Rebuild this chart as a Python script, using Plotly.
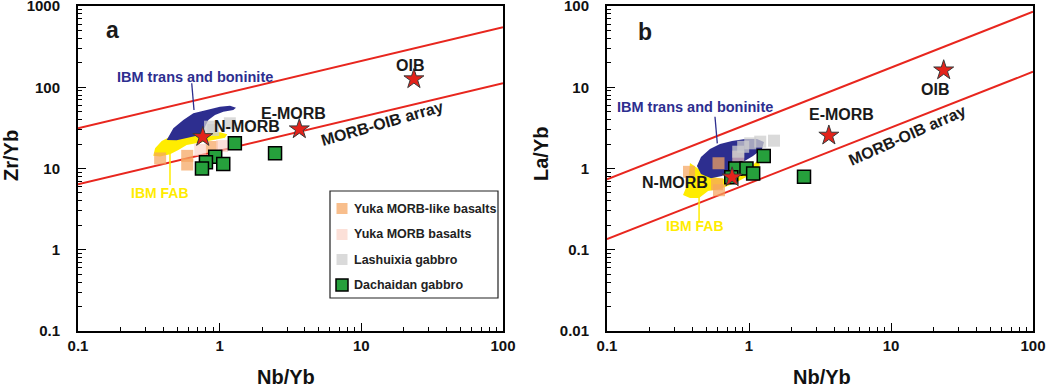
import numpy as np
import plotly.graph_objects as go

# ---------------- data ----------------
ref_names = ["N-MORB", "E-MORB", "OIB"]
ref_nb_yb = [0.76, 3.65, 23.5]
ref_zr_yb = [24.5, 30.5, 126]
ref_la_yb = [0.78, 2.55, 16.2]

# Dachaidan gabbro
dach_nb_yb_a = [1.28, 2.46, 0.93, 0.80, 1.06, 0.75]
dach_zr_yb = [20.4, 15.4, 14.0, 11.9, 11.4, 10.0]
dach_nb_yb_b = [1.27, 2.44, 0.80, 0.96, 1.07, 0.75]
dach_la_yb = [1.43, 0.79, 1.00, 1.00, 0.87, 0.78]

# Yuka MORB-like basalts
ymlk_nb_yb_a = [0.38, 0.59, 0.59, 0.88]
ymlk_zr_yb = [13.3, 14.3, 11.2, 18.4]
ymlk_nb_yb_b = [0.378, 0.595, 0.615, 0.61]
ymlk_la_yb = [0.91, 0.64, 0.54, 1.16]

# Yuka MORB basalts
ymb_nb_yb_a = [0.73, 1.04]
ymb_zr_yb = [16.9, 18.9]
ymb_nb_yb_b = [0.84]
ymb_la_yb = [1.40]

# Lashuixia gabbro
lash_nb_yb_a = [0.855, 0.90, 1.18]
lash_zr_yb = [32.7, 29.8, 36.0]
lash_nb_yb_b = [1.20, 1.50, 0.91, 1.02, 0.84]
lash_la_yb = [2.14, 2.20, 1.85, 2.04, 1.61]

# MORB-OIB array boundaries (end points at Nb/Yb = 0.1 and 100)
arr_x = [0.1, 100]
arr_a_upper = [31.3, 547]
arr_a_lower = [6.4, 112]
arr_b_upper = [0.736, 85]
arr_b_lower = [0.135, 15.5]

# Fields
ibm_trans_a_x = [0.423, 0.471, 0.554, 0.652, 0.810, 1.005, 1.183, 1.304, 1.248, 1.061,
                 0.927, 0.832, 0.788, 0.766, 0.689, 0.585, 0.497]
ibm_trans_a_y = [22.4, 31.3, 39.5, 47.8, 52.5, 57.6, 59.3, 56.0, 52.5, 50.0,
                 45.6, 39.5, 32.7, 27.9, 25.3, 23.5, 22.2]
ibm_fab_a_x = [0.340, 0.350, 0.390, 0.446, 0.554, 0.746, 1.005, 1.132, 1.09, 0.902,
               0.726, 0.585, 0.511, 0.446, 0.379]
ibm_fab_a_y = [14.4, 17.7, 21.8, 24.6, 25.8, 27.1, 27.9, 26.4, 23.9, 22.4,
               21.0, 19.5, 16.9, 15.0, 14.1]
ibm_trans_b_x = [0.430, 0.459, 0.531, 0.625, 0.759, 0.937, 1.138, 1.275, 1.235, 1.067,
                 0.907, 0.771, 0.645, 0.540, 0.459]
ibm_trans_b_y = [1.07, 1.39, 1.74, 2.00, 2.18, 2.31, 2.31, 2.12, 1.74, 1.43,
                 1.20, 0.96, 0.81, 0.76, 0.855]
ibm_fab_b_x = [0.343, 0.372, 0.384, 0.430, 0.474, 0.549, 0.678, 0.864, 1.05, 1.157,
               1.195, 1.016, 0.797, 0.625, 0.515, 0.445, 0.384]
ibm_fab_b_y = [0.472, 0.663, 1.17, 1.01, 0.905, 0.786, 0.743, 0.88, 1.07, 1.27,
               1.10, 0.83, 0.663, 0.56, 0.528, 0.434, 0.434]

# leader lines
lead_a_trans_x = [0.635, 0.659]; lead_a_trans_y = [112, 52.5]
lead_a_fab_x = [0.446, 0.446]; lead_a_fab_y = [15.5, 6.27]
lead_b_trans_x = [0.576, 0.598]; lead_b_trans_y = [4.34, 2.04]
lead_b_fab_x = [0.445, 0.445]; lead_b_fab_y = [0.597, 0.221]

legend_labels = ["Yuka MORB-like basalts", "Yuka MORB basalts", "Lashuixia gabbro", "Dachaidan gabbro"]

# ---------------- style ----------------
W, H = 1052, 388
FONT = "Liberation Sans"
NAVY = "#2d2e8f"
YELLOW = "#ffec00"
RED = "#e8261e"
GREEN = "#26a03c"
ORANGE = "rgba(245,165,95,0.72)"
PINK = "rgba(250,208,195,0.65)"
GRAY = "rgba(205,205,205,0.75)"

def px_x(p):
    return p / W

def px_y(p):
    return 1 - p / H

fig = go.Figure()

def add_panel(xa, ya, trans_x, trans_y, fab_x, fab_y, up, lo, lt, lf,
              ymlk, ymb, lash, dach, ref_y):
    xr, yr = xa, ya
    fig.add_trace(go.Scatter(x=fab_x, y=fab_y, fill="toself", mode="lines",
                             line=dict(width=0, color=YELLOW), fillcolor=YELLOW,
                             xaxis=xr, yaxis=yr, showlegend=False, hoverinfo="skip"))
    fig.add_trace(go.Scatter(x=trans_x, y=trans_y, fill="toself", mode="lines",
                             line=dict(width=0, color=NAVY), fillcolor=NAVY,
                             xaxis=xr, yaxis=yr, showlegend=False, hoverinfo="skip"))
    for yy in (up, lo):
        fig.add_trace(go.Scatter(x=arr_x, y=yy, mode="lines", line=dict(color=RED, width=2),
                                 xaxis=xr, yaxis=yr, showlegend=False, hoverinfo="skip"))
    fig.add_trace(go.Scatter(x=lt[0], y=lt[1], mode="lines", line=dict(color=NAVY, width=1.3),
                             xaxis=xr, yaxis=yr, showlegend=False, hoverinfo="skip"))
    fig.add_trace(go.Scatter(x=lf[0], y=lf[1], mode="lines", line=dict(color=YELLOW, width=1.5),
                             xaxis=xr, yaxis=yr, showlegend=False, hoverinfo="skip"))
    for (xx, yy), col, sz in ((ymlk, ORANGE, 12), (ymb, PINK, 12), (lash, GRAY, 12)):
        fig.add_trace(go.Scatter(x=xx, y=yy, mode="markers",
                                 marker=dict(symbol="square", size=sz, color=col, line=dict(width=0)),
                                 xaxis=xr, yaxis=yr, showlegend=False))
    fig.add_trace(go.Scatter(x=dach[0], y=dach[1], mode="markers",
                             marker=dict(symbol="square", size=13, color=GREEN,
                                         line=dict(color="black", width=1.5)),
                             xaxis=xr, yaxis=yr, showlegend=False))
    fig.add_trace(go.Scatter(x=ref_nb_yb, y=ref_y, mode="markers",
                             marker=dict(symbol="star", size=15, color="#e3231b",
                                         line=dict(color="#3a3a3a", width=1)),
                             xaxis=xr, yaxis=yr, showlegend=False, text=ref_names))

add_panel("x", "y", ibm_trans_a_x, ibm_trans_a_y, ibm_fab_a_x, ibm_fab_a_y,
          arr_a_upper, arr_a_lower,
          (lead_a_trans_x, lead_a_trans_y), (lead_a_fab_x, lead_a_fab_y),
          (ymlk_nb_yb_a, ymlk_zr_yb), (ymb_nb_yb_a, ymb_zr_yb),
          (lash_nb_yb_a, lash_zr_yb), (dach_nb_yb_a, dach_zr_yb), ref_zr_yb)
add_panel("x2", "y2", ibm_trans_b_x, ibm_trans_b_y, ibm_fab_b_x, ibm_fab_b_y,
          arr_b_upper, arr_b_lower,
          (lead_b_trans_x, lead_b_trans_y), (lead_b_fab_x, lead_b_fab_y),
          (ymlk_nb_yb_b, ymlk_la_yb), (ymb_nb_yb_b, ymb_la_yb),
          (lash_nb_yb_b, lash_la_yb), (dach_nb_yb_b, dach_la_yb), ref_la_yb)

def minor_vals(lo, hi):
    v = []
    for e in range(lo, hi):
        for m in range(2, 10):
            v.append(m * 10.0 ** e)
    return v

tickfont = dict(family=FONT, size=15, color="#111", weight="bold")

def xaxis(domain):
    return dict(type="log", range=[-1, 2], domain=domain, showgrid=False, zeroline=False,
                showline=True, linecolor="black", linewidth=2, mirror=True,
                ticks="inside", ticklen=8, tickwidth=1.2, tickcolor="black",
                tickvals=[0.1, 1, 10, 100], ticktext=["0.1", "1", "10", "100"],
                tickfont=tickfont, ticklabelstandoff=0, automargin=False,
                ticklabeloverflow="allow",
                minor=dict(ticks="inside", ticklen=4, tickwidth=1, tickcolor="black",
                           tickvals=minor_vals(-1, 2), showgrid=False))

def yaxis(lo, hi, anchor):
    vals = [10.0 ** e for e in range(lo, hi + 1)]
    txt = ["0.01", "0.1", "1", "10", "100", "1000"]
    txt = [t for t in txt if float(t) in vals]
    return dict(type="log", range=[lo, hi], domain=[px_y(331), px_y(6)], anchor=anchor,
                showgrid=False, zeroline=False,
                showline=True, linecolor="black", linewidth=2, mirror=True,
                ticks="inside", ticklen=8, tickwidth=1.2, tickcolor="black",
                tickvals=vals, ticktext=txt, tickfont=tickfont, ticklabelstandoff=13,
                automargin=False, ticklabeloverflow="allow",
                minor=dict(ticks="inside", ticklen=4, tickwidth=1, tickcolor="black",
                           tickvals=minor_vals(lo, hi), showgrid=False))

fig.update_layout(
    width=W, height=H, margin=dict(l=0, r=0, t=0, b=0),
    paper_bgcolor="white", plot_bgcolor="white",
    xaxis=dict(xaxis([px_x(78), px_x(503)]), anchor="y"),
    yaxis=yaxis(-1, 3, "x"),
    xaxis2=dict(xaxis([px_x(607), px_x(1033)]), anchor="y2"),
    yaxis2=yaxis(-2, 2, "x2"),
    showlegend=False,
)

ann = []
L = np.log10

def t(text, x, y, xr, yr, size=16, color="#1a1a1a", angle=0):
    ann.append(dict(text=text, x=L(x), y=L(y), xref=xr, yref=yr, showarrow=False,
                    textangle=angle, font=dict(family=FONT, size=size, color=color, weight="bold")))

# panel a labels
t("a", 0.174, 507, "x", "y", size=23)
t("IBM trans and boninite", 0.670, 134, "x", "y", size=14.5, color=NAVY)
t("IBM FAB", 0.379, 4.99, "x", "y", size=14, color=YELLOW)
t("OIB", 22.0, 184, "x", "y")
t("E-MORB", 3.31, 47.8, "x", "y")
t("N-MORB", 1.57, 32.7, "x", "y")
t("MORB-OIB array", 13.9, 36.0, "x", "y", angle=-16)
# panel b labels
t("b", 0.185, 47.9, "x2", "y2", size=23)
t("IBM trans and boninite", 0.417, 5.77, "x2", "y2", size=14.5, color=NAVY)
t("IBM FAB", 0.417, 0.196, "x2", "y2", size=14, color=YELLOW)
t("OIB", 20.4, 9.44, "x2", "y2")
t("E-MORB", 4.45, 4.64, "x2", "y2")
t("N-MORB", 0.301, 0.668, "x2", "y2")
t("MORB-OIB array", 12.9, 2.58, "x2", "y2", angle=-24)

def at(text, x, y, angle=0):
    ann.append(dict(text=text, x=px_x(x), y=px_y(y), xref="paper", yref="paper", showarrow=False,
                    textangle=angle, xanchor="center", yanchor="middle",
                    font=dict(family=FONT, size=20, color="#111", weight="bold")))

at("Zr/Yb", 11, 156, -90)
at("La/Yb", 541, 154, -90)
at("Nb/Yb", 286, 377)
at("Nb/Yb", 822, 377)

# legend (panel a)
shapes = [dict(type="rect", xref="paper", yref="paper", x0=px_x(330), x1=px_x(498),
               y0=px_y(298), y1=px_y(191), line=dict(color="#222", width=1.2),
               fillcolor="white", layer="above")]
leg_cols = [ORANGE, PINK, GRAY, GREEN]
leg_y = [208.5, 234.5, 259.5, 285]
for lab, col, yy in zip(legend_labels, leg_cols, leg_y):
    is_g = col == GREEN
    s = 11 if not is_g else 12
    shapes.append(dict(type="rect", xref="paper", yref="paper",
                       x0=px_x(342 - s / 2), x1=px_x(342 + s / 2),
                       y0=px_y(yy + s / 2), y1=px_y(yy - s / 2),
                       fillcolor=col, layer="above",
                       line=dict(color="black" if is_g else "rgba(0,0,0,0)", width=1.5 if is_g else 0)))
    ann.append(dict(text=lab, x=px_x(352), y=px_y(yy), xref="paper", yref="paper",
                    xanchor="left", yanchor="middle", showarrow=False,
                    font=dict(family=FONT, size=12.5, color="#222", weight="bold")))

fig.update_layout(annotations=ann, shapes=shapes)
fig.write_html("out.html", config={"displayModeBar": False},
               post_script="document.body.style.margin='0px';")
